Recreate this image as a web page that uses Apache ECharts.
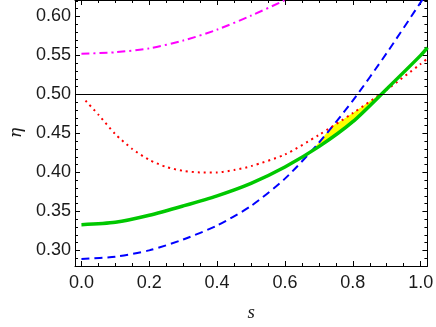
<!DOCTYPE html>
<html><head><meta charset="utf-8">
<script src="https://cdn.jsdelivr.net/npm/echarts@6/dist/echarts.min.js"></script>
<style>html,body{margin:0;padding:0;background:#fff}#c{width:436px;height:327px}</style>
</head><body><div id="c"></div>
<script>
// s grid for green / blue curves
var sGrid = [0, 0.1, 0.2, 0.3, 0.4, 0.5, 0.6, 0.7, 0.8, 0.9, 1.0, 1.02];
var greenEta = [0.333, 0.336, 0.345, 0.357, 0.370, 0.386, 0.407, 0.433, 0.465, 0.507, 0.550, 0.560];
var blueEta  = [0.289, 0.292, 0.300, 0.314, 0.332, 0.357, 0.392, 0.438, 0.492, 0.553, 0.618, 0.631];
// red dotted curve
var sRed   = [0.012, 0.05, 0.1, 0.15, 0.2, 0.25, 0.3, 0.35, 0.4, 0.45, 0.5, 0.6, 0.7, 0.8, 0.9, 1.0, 1.02];
var redEta = [0.492, 0.474, 0.449, 0.430, 0.416, 0.407, 0.402, 0.400, 0.400, 0.403, 0.408, 0.423, 0.448, 0.476, 0.506, 0.539, 0.546];
// magenta dash-dot curve
var sMag   = [0, 0.1, 0.2, 0.3, 0.4, 0.5, 0.6, 0.7];
var magEta = [0.552, 0.554, 0.559, 0.569, 0.583, 0.601, 0.621, 0.645];
// yellow region
var fillS    = [0.675, 0.70, 0.738, 0.77, 0.80, 0.83, 0.86, 0.89];
var fillLow  = [0.4265, 0.433, 0.445, 0.455, 0.465, 0.4775, 0.490, 0.503];
var fillHigh = [0.4265, 0.438, 0.459, 0.4675, 0.476, 0.485, 0.494, 0.503];
var refLine = 0.5;

function pairs(xs, ys){ return xs.map(function(x,i){ return [x, ys[i]]; }); }

var xMin = -0.019, xMax = 1.020, yMin = 0.28, yMax = 0.621;
var labelFont = {fontFamily: 'Liberation Sans', fontSize: 18, color: '#1a1a1a'};

function mkX(pos, show){
  return {
    type: 'value', min: xMin, max: xMax, position: pos, splitNumber: 5,
    axisLine: {show: true, onZero: false, lineStyle: {color: '#000', width: 1}},
    axisTick: {show: true, inside: true, length: 5, lineStyle: {color: '#000'}},
    minorTick: {show: true, splitNumber: 4, length: 3, lineStyle: {color: '#000'}},
    splitLine: {show: false},
    axisLabel: Object.assign({show: show, margin: 8, showMinLabel: false, showMaxLabel: false,
      formatter: function(v){ return v.toFixed(1); }}, labelFont),
    name: show ? 's' : '', nameLocation: 'middle', nameGap: 37,
    nameTextStyle: {fontFamily: 'Liberation Serif', fontStyle: 'italic', fontSize: 19, color: '#1a1a1a'}
  };
}
function mkY(pos, show){
  return {
    type: 'value', min: yMin, max: yMax, position: pos, splitNumber: 5,
    axisLine: {show: true, onZero: false, lineStyle: {color: '#000', width: 1}},
    axisTick: {show: true, inside: true, length: 5, lineStyle: {color: '#000'}},
    minorTick: {show: true, splitNumber: 5, length: 3, lineStyle: {color: '#000'}},
    splitLine: {show: false},
    axisLabel: Object.assign({show: show, margin: 4, showMinLabel: false, showMaxLabel: false,
      formatter: function(v){ return v.toFixed(2); }}, labelFont),
    name: show ? 'η' : '', nameLocation: 'middle', nameGap: 50, nameRotate: 90,
    nameTextStyle: {fontFamily: 'DejaVu Serif', fontStyle: 'italic', fontSize: 17, color: '#1a1a1a'}
  };
}

var chart = echarts.init(document.getElementById('c'), null, {renderer: 'canvas'});
chart.setOption({
  animation: false,
  grid: {left: 67, right: 7.5, top: 0, bottom: 55, containLabel: false},
  xAxis: [mkX('bottom', true), mkX('top', false)],
  yAxis: [mkY('left', true), mkY('right', false)],
  series: [
    {
      type: 'custom', xAxisIndex: 0, yAxisIndex: 0, z: 1, clip: true,
      data: [0],
      renderItem: function(params, api){
        var pts = [];
        for (var i = 0; i < fillS.length; i++) pts.push(api.coord([fillS[i], fillLow[i]]));
        for (var j = fillS.length - 1; j >= 0; j--) pts.push(api.coord([fillS[j], fillHigh[j]]));
        return {type: 'polygon', shape: {points: pts, smooth: 0}, style: {fill: '#ffff00', stroke: null}};
      }
    },
    {
      type: 'line', data: pairs(sMag, magEta), smooth: 0.25, symbol: 'none', z: 3,
      lineStyle: {color: '#ff00ff', width: 2, type: [8, 4, 2, 4]}
    },
    {
      type: 'line', data: pairs(sGrid, blueEta), smooth: 0.25, symbol: 'none', z: 3,
      lineStyle: {color: '#0000ff', width: 2, type: [8, 5]}
    },
    {
      type: 'line', data: pairs(sRed, redEta), smooth: 0.25, symbol: 'none', z: 3,
      lineStyle: {color: '#ff0000', width: 2, type: [2, 4]}
    },
    {
      type: 'line', data: pairs(sGrid, greenEta), smooth: 0.25, symbol: 'none', z: 4,
      lineStyle: {color: '#00c800', width: 3.5},
      markLine: {silent: true, symbol: 'none', label: {show: false},
        lineStyle: {color: '#000', width: 1, type: 'solid'},
        data: [{yAxis: refLine}]}
    }
  ]
});
</script></body></html>
